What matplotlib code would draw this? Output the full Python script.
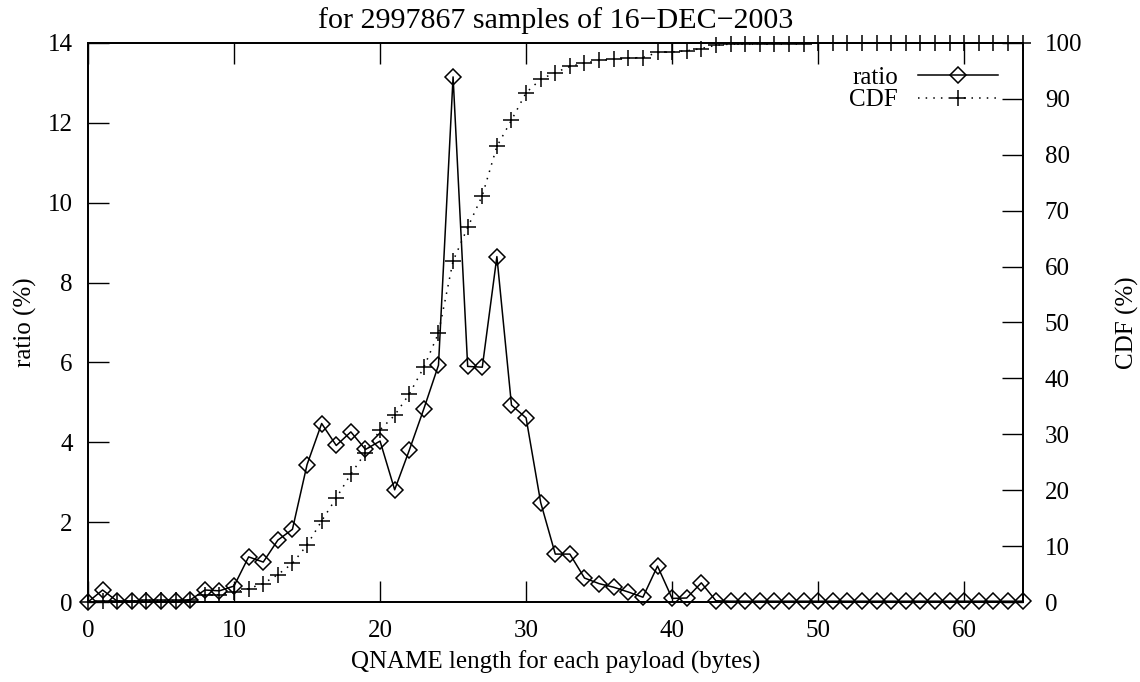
import numpy as np
import matplotlib.pyplot as plt

plt.rcParams['font.family'] = ['Liberation Serif', 'DejaVu Serif']
plt.rcParams['font.size'] = 18

# QNAME length (bytes)
length = np.arange(0, 65)

# ratio (%) per length
ratio = [0.0, 0.30, 0.02, 0.02, 0.02, 0.02, 0.02, 0.05, 0.30, 0.28,
         0.40, 1.13, 1.00, 1.55, 1.82, 3.44, 4.47, 3.92, 4.26, 3.82,
         4.03, 2.81, 3.80, 4.84, 5.93, 13.15, 5.90, 5.88, 8.65, 4.93,
         4.61, 2.49, 1.20, 1.20, 0.60, 0.46, 0.37, 0.25, 0.12, 0.90,
         0.09, 0.10, 0.48, 0.03, 0.02, 0.02, 0.02, 0.02, 0.02, 0.02,
         0.02, 0.02, 0.02, 0.02, 0.02, 0.02, 0.02, 0.02, 0.02, 0.02,
         0.02, 0.02, 0.02, 0.02, 0.02]

# cumulative distribution (%)
cdf = [0.0, 0.2, 0.2, 0.2, 0.3, 0.3, 0.3, 0.4, 1.3, 1.3,
       1.7, 2.4, 3.3, 4.9, 6.9, 10.2, 14.5, 18.6, 22.9, 26.7,
       30.8, 33.4, 37.2, 42.0, 48.1, 61.0, 67.0, 72.7, 81.5, 86.2,
       91.1, 93.5, 94.7, 95.8, 96.4, 96.9, 97.1, 97.3, 97.4, 98.3,
       98.4, 98.6, 99.0, 99.6, 99.8, 99.8, 99.9, 99.9, 99.9, 99.9,
       100, 100, 100, 100, 100, 100, 100, 100, 100, 100,
       100, 100, 100, 100, 100]

fig = plt.figure(figsize=(11.4, 6.82), dpi=100)
ax = fig.add_axes([0.0772, 0.1173, 0.8198, 0.8197])
ax2 = ax.twinx()

l1, = ax.plot(length, ratio, color='black', lw=1.1, marker='D', markersize=8,
              markerfacecolor='none', markeredgewidth=1.1, clip_on=False,
              label='ratio')
l2, = ax2.plot(length, cdf, color='black', lw=1.1, linestyle=(0, (1, 4)),
               marker='+', markersize=11, markeredgewidth=1.1, clip_on=False,
               label='CDF')

ax.set_xlim(0, 64)
ax.set_ylim(0, 14)
ax2.set_ylim(0, 100)
ax.set_xticks(np.arange(0, 61, 10))
ax.set_yticks(np.arange(0, 15, 2))
ax2.set_yticks(np.arange(0, 101, 10))

ax.tick_params(axis='x', direction='in', length=15, width=1, top=True, pad=13)
ax.tick_params(axis='y', direction='in', length=15, width=1, pad=11)
ax2.tick_params(axis='y', direction='in', length=15, width=1, pad=16)
for a in (ax, ax2):
    for s in a.spines.values():
        s.set_linewidth(1.3)

ax.set_xlabel('QNAME length for each payload (bytes)', labelpad=6)
ax.set_ylabel('ratio (%)', labelpad=8)
ax2.set_ylabel('CDF (%)', labelpad=24)
ax.set_title('for 2997867 samples of 16\u2212DEC\u22122003', pad=11)

leg = ax.legend([l1, l2], ['ratio', 'CDF'], loc='upper right',
                bbox_to_anchor=(0.99, 0.985), frameon=False,
                markerfirst=False, handlelength=3.2, handletextpad=0.8,
                labelspacing=0.0, borderaxespad=0.2)

fig.savefig('out.png', dpi=100)
